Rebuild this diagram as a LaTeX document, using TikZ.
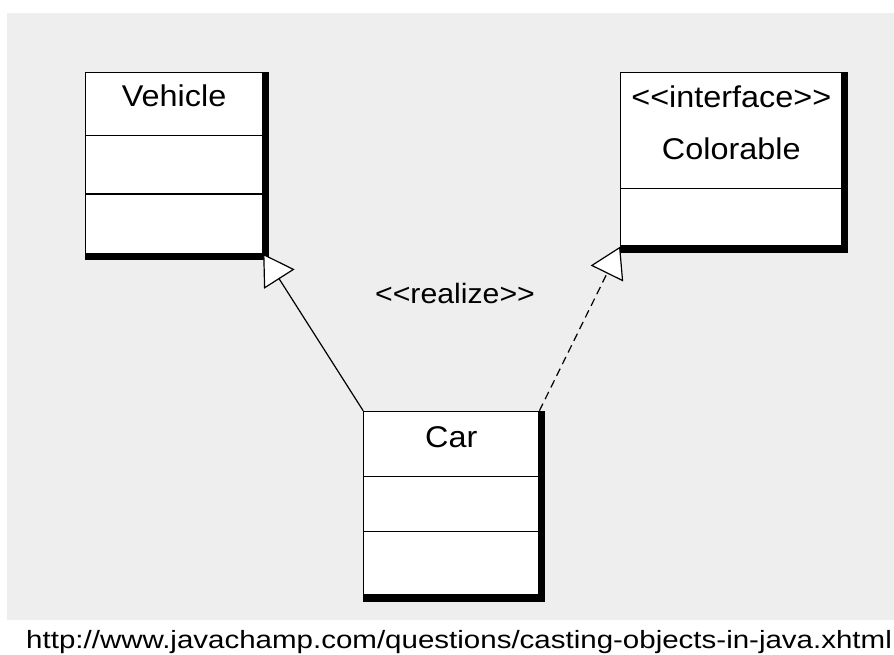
\documentclass[tikz,border=0pt]{standalone}
\usepackage{fontspec}
\setmainfont{Liberation Sans}[FakeStretch=1.08]
\newfontfamily\urlfont{Liberation Sans}[FakeStretch=1.18]
\usetikzlibrary{shapes.multipart, arrows.meta, positioning}
\definecolor{canvas}{RGB}{238,238,238}
\tikzset{
  classbox/.style={rectangle split, draw, fill=white, line width=1.2pt,
    inner xsep=0pt, inner ysep=0pt, text width=#1, align=center,
    font=\fontsize{30}{52}\selectfont},
  classbox/.default=177pt,
  heavy/.style={line width=6pt},
  extends/.style={-{Triangle[length=30pt,width=36pt,fill=white]}, line width=1.2pt},
  realizes/.style={extends, dash pattern=on 8pt off 5pt}
}

\begin{document}
\begin{tikzpicture}[x=1pt,y=-1pt,font=\fontsize{28}{34}\selectfont]
    \useasboundingbox (0,0) rectangle (894,655);
    \fill[white]  (0,0) rectangle (894,655);
    \fill[canvas] (7,13) rectangle (894,620);

    \node[classbox, rectangle split parts=3, anchor=north west] (vehicle) at (85,72)
        {\rule[-29pt]{0pt}{62pt}Vehicle
         \nodepart{two}\rule{0pt}{57pt}
         \nodepart{three}\rule{0pt}{58pt}};
    \node[classbox=221pt, rectangle split parts=2,
          right=357pt of vehicle.north east, anchor=north west] (colorable)
        {\rule{0pt}{34pt}<{}<interface>{}>\\Colorable\rule[-29pt]{0pt}{29pt}
         \nodepart{two}\rule{0pt}{56pt}};
    \node[classbox=175pt, rectangle split parts=3,
          below right=157pt and 100pt of vehicle.south east, anchor=north west] (car)
        {\rule[-29pt]{0pt}{64pt}Car
         \nodepart{two}\rule{0pt}{54pt}
         \nodepart{three}\rule{0pt}{62pt}};

    % thick right and bottom edges
    \foreach \cls in {vehicle, colorable, car}
        \draw[heavy] ([xshift=3pt]\cls.north east) |- ([yshift=-3pt]\cls.south west);

    \node (realize) at (455,293) {<{}<realize>{}>};

    \draw[extends]  (car.north west) -- (vehicle.south east);
    \draw[realizes] (car.north east) -- (colorable.south west);

    \node[anchor=base west, inner sep=0pt, font=\urlfont\fontsize{25}{30}\selectfont] (source) at (26,648)
        {http://www.javachamp.com/questions/casting-objects-in-java.xhtml};
\end{tikzpicture}
\end{document}
